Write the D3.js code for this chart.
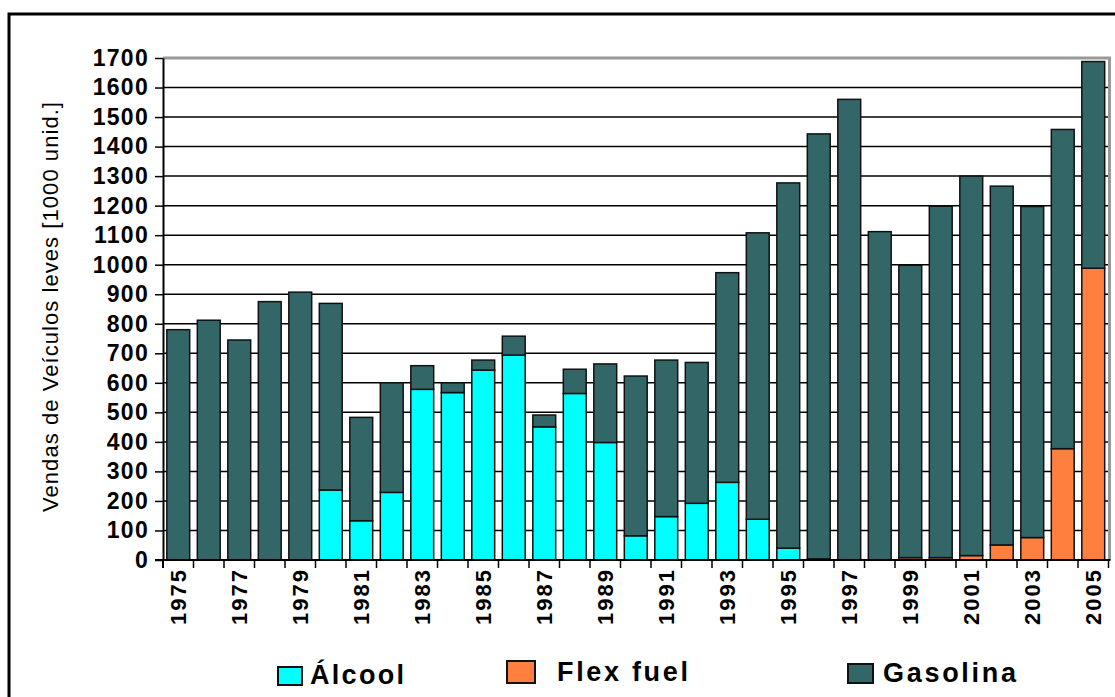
<!DOCTYPE html>
<html>
<head>
<meta charset="utf-8">
<script src="https://cdn.jsdelivr.net/npm/d3@7"></script>
<style>
  html, body { margin: 0; padding: 0; background: #fff; }
  svg { display: block; }
</style>
</head>
<body>
<svg id="chart" width="1115" height="697"></svg>
<script>
// ---- data ----
const years = d3.range(1975, 2006);
const alcool = [0,0,0,0,0,237,133,229,578,567,643,694,451,564,398,82,147,192,263,138,40,4,0,0,0,0,0,0,0,0,0];
const flexFuel = [0,0,0,0,0,0,0,0,0,0,0,0,0,0,0,0,0,0,0,0,0,0,0,0,8,8,15,51,76,377,988];
const gasolina = [780,812,745,875,907,632,350,371,80,33,34,64,40,82,266,541,530,477,710,970,1237,1439,1560,1112,990,1190,1285,1215,1121,1081,700];
const seriesNames = ["Álcool", "Flex fuel", "Gasolina"];
const seriesKeys = ["alcool", "flex", "gasolina"];
const yTicks = d3.range(0, 1701, 100);
const xLabelYears = years.filter((y, i) => i % 2 === 0);
const yLabel = "Vendas de Veículos leves [1000 unid.]";

// ---- layout ----
const svg = d3.select("#chart");
const X0 = 163, X1 = 1108.5, Y0 = 58, Y1 = 560;
const colors = { alcool: "#00ffff", flex: "#ff7f3f", gasolina: "#336666" };
const FONT = "Liberation Sans, Arial, sans-serif";

const rows = years.map((yr, i) => ({ year: yr, alcool: alcool[i], flex: flexFuel[i], gasolina: gasolina[i] }));
const stack = d3.stack().keys(seriesKeys)(rows);

const x = d3.scaleBand().domain(years).range([X0, X1]).paddingInner(0.25).paddingOuter(0.125);
const y = d3.scaleLinear().domain([0, 1700]).range([Y1, Y0]);

// outer frame
svg.append("path").attr("d", `M9,705 V14 H1125`).attr("fill", "none").attr("stroke", "#000").attr("stroke-width", 3);

// gridlines
svg.append("g").selectAll("line").data(yTicks.filter(v => v > 0 && v < 1700)).join("line")
  .attr("x1", X0).attr("x2", X1 + 1).attr("y1", d => y(d)).attr("y2", d => y(d))
  .attr("stroke", "#000").attr("stroke-width", 1.5);

// plot frame top/right (grey)
svg.append("path").attr("d", `M${X0},${y(1700)} H${X1 + 1} V${Y1}`)
  .attr("fill", "none").attr("stroke", "#999").attr("stroke-width", 3);

// bars
svg.append("g").selectAll("g").data(stack).join("g")
  .attr("fill", d => colors[d.key])
  .selectAll("rect").data(d => d.filter(s => s[1] - s[0] > 0)).join("rect")
  .attr("x", d => x(d.data.year))
  .attr("width", x.bandwidth())
  .attr("y", d => y(d[1]))
  .attr("height", d => y(d[0]) - y(d[1]))
  .attr("stroke", "#111").attr("stroke-width", 1.5);

// y axis
const yAxis = svg.append("g").attr("transform", `translate(${X0},0)`)
  .call(d3.axisLeft(y).tickValues(yTicks).tickFormat(d3.format("d")).tickSize(8).tickPadding(6).tickSizeOuter(0));
yAxis.select(".domain").attr("stroke", "#000").attr("stroke-width", 2);
yAxis.selectAll(".tick line").attr("stroke", "#000").attr("stroke-width", 1.5);
yAxis.selectAll(".tick text")
  .attr("font-family", FONT).attr("font-weight", "bold")
  .attr("font-size", 23).attr("fill", "#000").attr("letter-spacing", "1.3px");

// x axis line
svg.append("line").attr("x1", X0 - 8).attr("x2", X1 + 2).attr("y1", Y1).attr("y2", Y1)
  .attr("stroke", "#000").attr("stroke-width", 2);
svg.append("line").attr("x1", X0).attr("x2", X0).attr("y1", Y1).attr("y2", Y1 + 8)
  .attr("stroke", "#000").attr("stroke-width", 2);
// x ticks at band boundaries
svg.append("g").selectAll("line").data(years).join("line")
  .attr("x1", d => x(d) + x.bandwidth() + x.step() * x.paddingInner() / 2)
  .attr("x2", d => x(d) + x.bandwidth() + x.step() * x.paddingInner() / 2)
  .attr("y1", Y1).attr("y2", Y1 + 8).attr("stroke", "#000").attr("stroke-width", 1.5);
// x labels
svg.append("g").selectAll("text").data(xLabelYears).join("text")
  .attr("transform", d => `translate(${x(d) + x.bandwidth() / 2},568) rotate(-90)`)
  .attr("text-anchor", "end").attr("dy", "0.36em")
  .attr("font-family", FONT).attr("font-weight", "bold")
  .attr("font-size", 22).attr("letter-spacing", "2px").attr("fill", "#000")
  .text(d => d);

// y label
svg.append("text")
  .attr("transform", "translate(58,307) rotate(-90)")
  .attr("text-anchor", "middle")
  .attr("font-family", FONT).attr("font-size", 22)
  .attr("textLength", 410).attr("lengthAdjust", "spacing")
  .attr("fill", "#000").text(yLabel);

// legend
const legendLayout = [
  { sx: 278, sy: 667, sw: 24, sh: 18, tx: 310, ty: 684, tl: 94 },
  { sx: 507, sy: 661, sw: 28, sh: 22, tx: 557, ty: 681, tl: 131 },
  { sx: 848, sy: 664, sw: 25, sh: 19, tx: 883, ty: 682, tl: 133 }
];
const lg = svg.append("g").selectAll("g").data(seriesKeys).join("g");
lg.append("rect")
  .attr("x", (d, i) => legendLayout[i].sx).attr("y", (d, i) => legendLayout[i].sy)
  .attr("width", (d, i) => legendLayout[i].sw).attr("height", (d, i) => legendLayout[i].sh)
  .attr("fill", d => colors[d]).attr("stroke", "#111").attr("stroke-width", 2);
lg.append("text")
  .attr("x", (d, i) => legendLayout[i].tx).attr("y", (d, i) => legendLayout[i].ty)
  .attr("textLength", (d, i) => legendLayout[i].tl).attr("lengthAdjust", "spacing")
  .attr("font-family", FONT).attr("font-weight", "bold")
  .attr("font-size", 27).attr("fill", "#000")
  .text((d, i) => seriesNames[i]);
</script>
</body>
</html>
